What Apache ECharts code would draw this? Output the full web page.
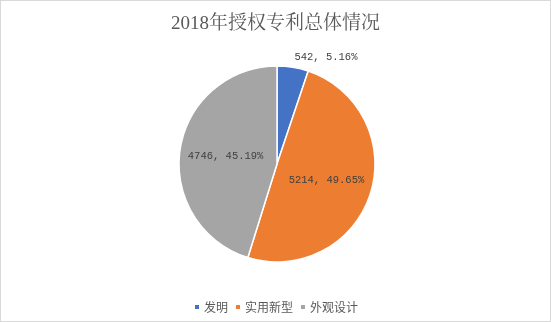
<!DOCTYPE html>
<html><head><meta charset="utf-8">
<script src="https://cdn.jsdelivr.net/npm/echarts@6/dist/echarts.min.js"></script>
<style>html,body{margin:0;padding:0;background:#fff}#c{width:549px;height:320px;border:1px solid #d9d9d9}</style>
</head><body><div id="c"></div>
<script>
const categories = ['发明', '实用新型', '外观设计'];
const values = [542, 5214, 4746];
const percents = ['5.16%', '49.65%', '45.19%'];
const colors = ['#4472C4', '#ED7D31', '#A5A5A5'];
const labelPositions = ['outside', 'inside', 'inside'];

const chart = echarts.init(document.getElementById('c'));
chart.setOption({
  animation: false,
  title: {
    text: '2018年授权专利总体情况', left: 'center', top: 9,
    textStyle: { fontFamily: 'Liberation Serif, Noto Serif CJK SC, Noto Sans CJK SC', fontSize: 19, fontWeight: 'normal', color: '#595959' }
  },
  legend: {
    top: 295, left: 'center', icon: 'rect', itemWidth: 6, itemHeight: 6, itemGap: 6,
    textStyle: { fontSize: 12, color: '#595959', fontFamily: 'Noto Sans CJK SC', padding: [0, 0, 0, -1] },
    data: categories
  },
  series: [{
    type: 'pie', center: [276, 163], radius: 98, startAngle: 90, clockwise: true,
    itemStyle: { borderColor: '#fff', borderWidth: 1.5 },
    label: { fontFamily: 'Liberation Mono, Noto Sans CJK SC', fontSize: 10.5, color: '#404040',
      distanceToLabelLine: 0,
      formatter: p => values[p.dataIndex] + ', ' + percents[p.dataIndex] },
    labelLine: { show: false, length: 10, length2: 0 },
    data: categories.map((c, i) => ({
      name: c, value: values[i], itemStyle: { color: colors[i] },
      label: { position: labelPositions[i] }
    }))
  }]
});
</script></body></html>
